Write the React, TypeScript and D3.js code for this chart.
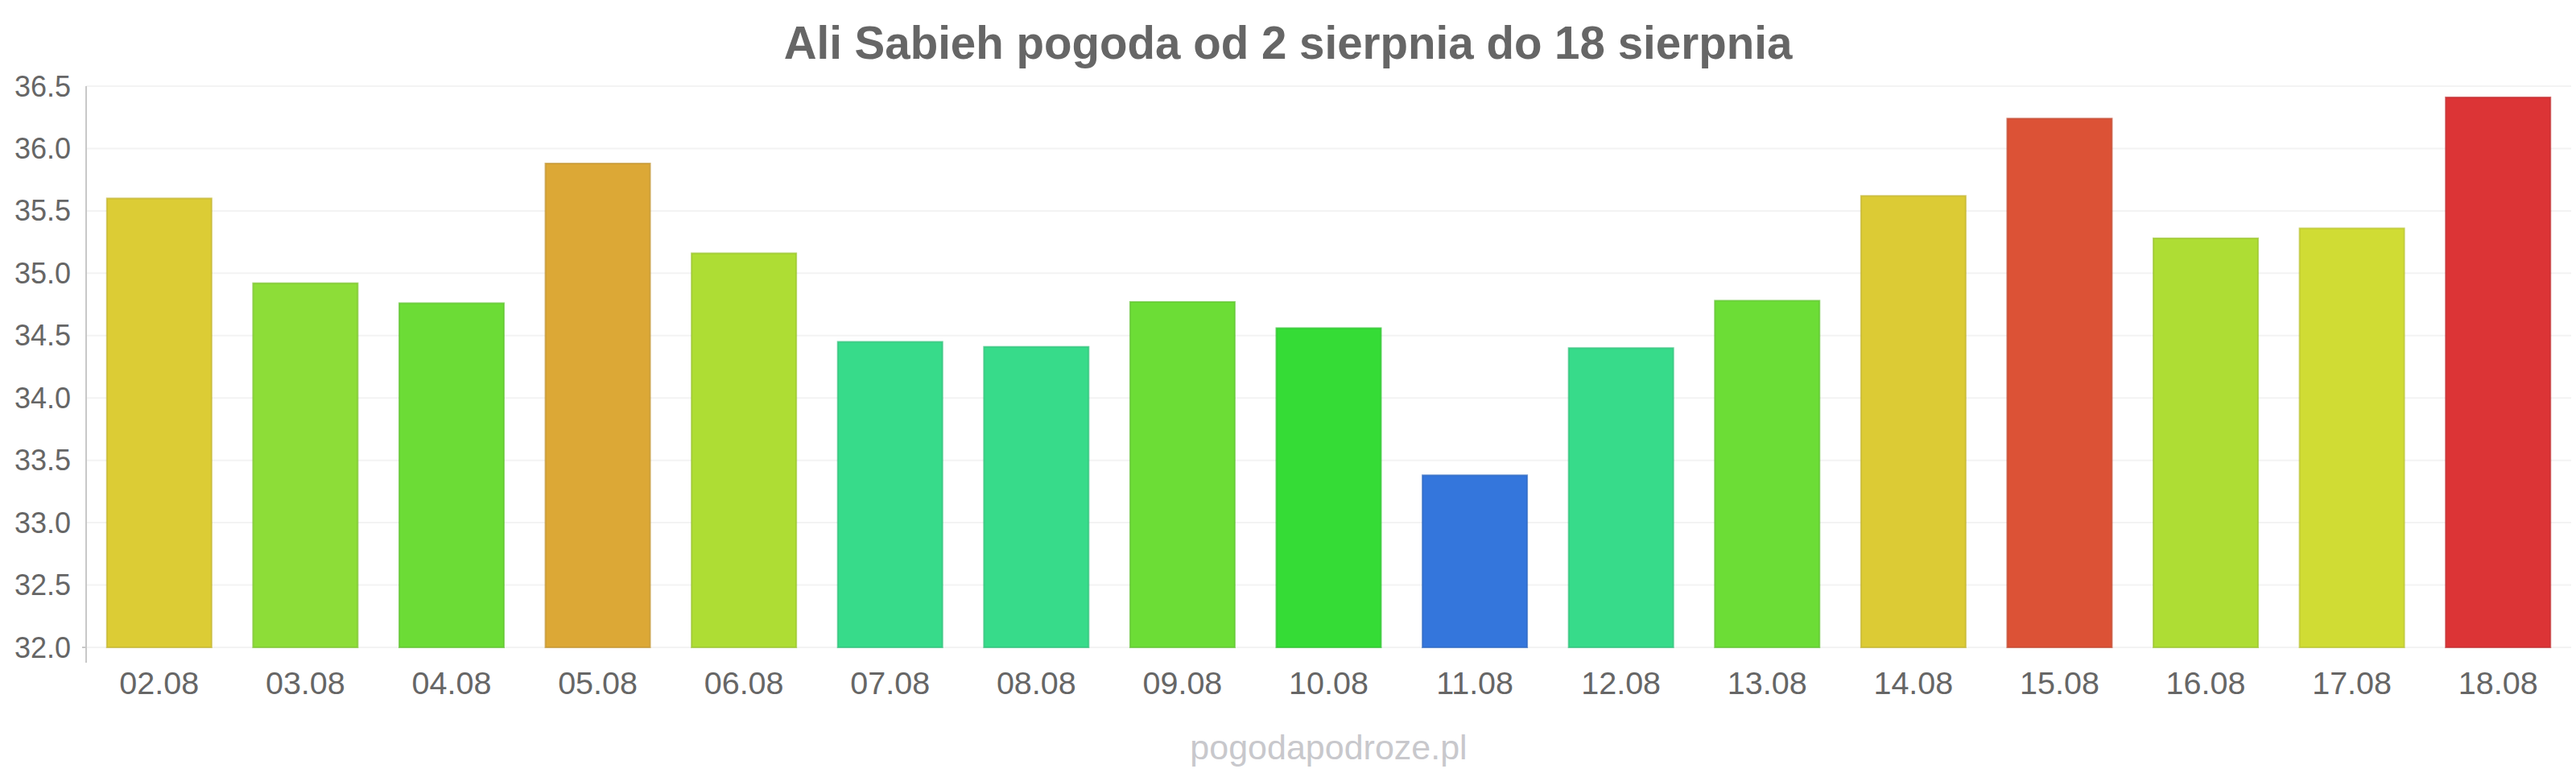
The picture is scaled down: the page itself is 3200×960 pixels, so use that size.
import React, { useRef, useEffect } from 'react';
import * as d3 from 'd3';

const days = ['02.08', '03.08', '04.08', '05.08', '06.08', '07.08', '08.08', '09.08', '10.08', '11.08', '12.08', '13.08', '14.08', '15.08', '16.08', '17.08', '18.08'];
const temps = [35.6, 34.92, 34.76, 35.88, 35.16, 34.45, 34.41, 34.77, 34.56, 33.38, 34.4, 34.78, 35.62, 36.24, 35.28, 35.36, 36.41];
const barColors = ['#dccc35', '#8ddd38', '#6cdc36', '#dca836', '#aedd34', '#37db8a', '#37db8a', '#6cdd36', '#35dc36', '#3476dc', '#37db8a', '#6cdd36', '#dccb35', '#dc5236', '#aedd34', '#d0dc34', '#dc3436'];
const yTicks = [32.0, 32.5, 33.0, 33.5, 34.0, 34.5, 35.0, 35.5, 36.0, 36.5];

const title = 'Ali Sabieh pogoda od 2 sierpnia do 18 sierpnia';
const credit = 'pogodapodroze.pl';

const App: React.FC = () => {
  const svgRef = useRef<SVGSVGElement>(null);

  useEffect(() => {
    if (!svgRef.current) return;
    const width = 3200;
    const height = 960;
    const margin = { top: 107, right: 6, bottom: 156, left: 107 };
    const font = '"Liberation Sans", Arial, sans-serif';

    const svg = d3.select(svgRef.current);
    svg.selectAll('*').remove();

    const x = d3.scaleBand<string>()
      .domain(days)
      .range([margin.left, width - margin.right])
      .paddingInner(0.284)
      .paddingOuter(0.142);

    const y = d3.scaleLinear()
      .domain([32, 36.5])
      .range([height - margin.bottom, margin.top]);

    // grid
    svg.append('g')
      .selectAll('line')
      .data(yTicks)
      .enter()
      .append('line')
      .attr('x1', margin.left)
      .attr('x2', width - margin.right)
      .attr('y1', d => y(d))
      .attr('y2', d => y(d))
      .attr('stroke', '#f3f3f3')
      .attr('stroke-width', 2);

    // bars
    svg.append('g')
      .selectAll('rect')
      .data(temps)
      .enter()
      .append('rect')
      .attr('x', (_, i) => x(days[i])!)
      .attr('y', d => y(d))
      .attr('width', x.bandwidth())
      .attr('height', d => y(32) - y(d))
      .attr('fill', (_, i) => barColors[i])
      .attr('stroke', (_, i) => d3.color(barColors[i])!.darker(0.35).formatHex())
      .attr('stroke-opacity', 0.7)
      .attr('stroke-width', 2);

    // y axis line
    svg.append('line')
      .attr('x1', margin.left)
      .attr('x2', margin.left)
      .attr('y1', y(36.5))
      .attr('y2', y(32) + 19)
      .attr('stroke', '#c8c8c8')
      .attr('stroke-width', 2);

    svg.append('line')
      .attr('x1', margin.left - 5)
      .attr('x2', margin.left)
      .attr('y1', y(32))
      .attr('y2', y(32))
      .attr('stroke', '#c8c8c8')
      .attr('stroke-width', 2);

    // y labels
    svg.append('g')
      .selectAll('text')
      .data(yTicks)
      .enter()
      .append('text')
      .attr('x', 88)
      .attr('y', d => y(d))
      .attr('dy', '0.35em')
      .attr('text-anchor', 'end')
      .attr('fill', '#666666')
      .style('font-family', font)
      .style('font-size', '36px')
      .text(d => d.toFixed(1));

    // x labels
    svg.append('g')
      .selectAll('text')
      .data(days)
      .enter()
      .append('text')
      .attr('x', d => x(d)! + x.bandwidth() / 2)
      .attr('y', 862)
      .attr('text-anchor', 'middle')
      .attr('fill', '#666666')
      .style('font-family', font)
      .style('font-size', '39.5px')
      .text(d => d);

    // title
    svg.append('text')
      .attr('x', width / 2)
      .attr('y', 73)
      .attr('text-anchor', 'middle')
      .attr('fill', '#666666')
      .style('font-family', font)
      .style('font-size', '56.5px')
      .style('font-weight', 'bold')
      .text(title);

    // credit
    svg.append('text')
      .attr('x', (margin.left + width - margin.right) / 2)
      .attr('y', 943)
      .attr('text-anchor', 'middle')
      .attr('fill', '#c8c8cc')
      .style('font-family', font)
      .style('font-size', '43px')
      .text(credit);
  }, []);

  return (
    <svg
      ref={svgRef}
      width={3200}
      height={960}
      viewBox="0 0 3200 960"
      style={{ position: 'absolute', left: 0, top: 0, background: '#ffffff' }}
    />
  );
};

export default App;
